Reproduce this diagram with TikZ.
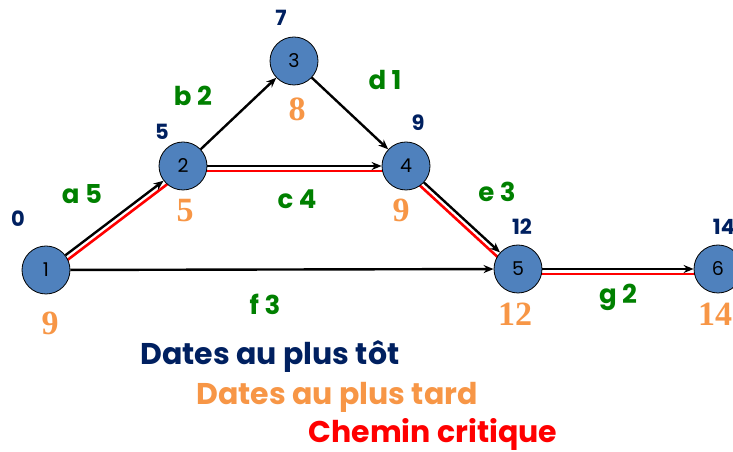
\documentclass[tikz,border=0pt]{standalone}
\usepackage{fontspec}
\setmainfont{Poppins}
\newfontfamily\numfont{Liberation Serif}
\usetikzlibrary{arrows.meta, positioning, calc, backgrounds}
\definecolor{nodeblue}{RGB}{79,129,189}
\definecolor{earlyblue}{RGB}{0,32,96}
\definecolor{lateorange}{RGB}{247,150,70}
\definecolor{taskgreen}{RGB}{0,128,0}

\begin{document}
\begin{tikzpicture}[
    x=1pt, y=1pt,
    event/.style={circle, draw=black, line width=0.8pt, fill=nodeblue, minimum size=48pt, inner sep=0pt, font=\fontsize{19}{19}\selectfont},
    arrow/.style={-{Stealth[length=10pt,width=8pt]}, line width=2.4pt},
    crit/.style={red, line width=2.6pt},
    early/.style={text=earlyblue, font=\fontsize{21}{21}\selectfont\bfseries},
    late/.style={text=lateorange, font=\fontsize{34}{34}\selectfont\numfont\bfseries},
    task/.style={text=taskgreen, font=\fontsize{26}{26}\selectfont\bfseries},
    legend/.style={anchor=base west, font=\fontsize{30}{30}\selectfont\bfseries}
]
    \useasboundingbox (0,0) rectangle (733,452);

    % Events
    \node[event] (n1) at (46,182) {1};
    \node[event] (n2) at (183,286) {2};
    \node[event] (n3) at (294,391) {3};
    \node[event] (n4) at (406,286) {4};
    \node[event] (n5) at (518,183) {5};
    \node[event] (n6) at (718,183) {6};

    % Critical path (red, behind the events)
    \begin{scope}[on background layer]
        \draw[crit] ($(n1)!5pt!-90:(n2)$) -- ($(n2)!5pt!90:(n1)$);
        \draw[crit] ($(n2)!5pt!-90:(n4)$) -- ($(n4)!5pt!90:(n2)$);
        \draw[crit] ($(n4)!5pt!-90:(n5)$) -- ($(n5)!5pt!90:(n4)$);
        \draw[crit] ($(n5)!5pt!-90:(n6)$) -- ($(n6)!5pt!90:(n5)$);
    \end{scope}

    % Tasks
    \draw[arrow] (n1) -- (n2);
    \draw[arrow] (n2) -- (n3);
    \draw[arrow] (n2) -- (n4);
    \draw[arrow] (n3) -- (n4);
    \draw[arrow] (n4) -- (n5);
    \draw[arrow] (n1) -- (n5);
    \draw[arrow] (n5) -- (n6);

    \node[task] (ta) at (82,258) {a 5};
    \node[task] (tb) at (193,356) {b 2};
    \node[task] (tc) at (297,253) {c 4};
    \node[task] (td) at (385,372) {d 1};
    \node[task] (te) at (497,260) {e 3};
    \node[task] (tf) at (265,148) {f 3};
    \node[task] (tg) at (618,155) {g 2};

    % Earliest dates
    \node[early] (e1) at (18,233) {0};
    \node[early] (e2) at (162,320) {5};
    \node[early] (e3) at (281,434) {7};
    \node[early] (e4) at (418,329) {9};
    \node[early] (e5) at (522,225) {12};
    \node[early] (e6) at (724,225) {14};

    % Latest dates
    \node[late] (l1) at (50,129) {9};
    \node[late] (l2) at (185,241) {5};
    \node[late] (l3) at (297,343) {8};
    \node[late] (l4) at (401,242) {9};
    \node[late] (l5) at (515,138) {12};
    \node[late] (l6) at (715,138) {14};

    % Legend
    \node[legend, text=earlyblue] (leg1) at (137,87) {Dates au plus tôt};
    \node[legend, text=lateorange] (leg2) at (193,47) {Dates au plus tard};
    \node[legend, text=red] (leg3) at (305,9) {Chemin critique};
\end{tikzpicture}
\end{document}
